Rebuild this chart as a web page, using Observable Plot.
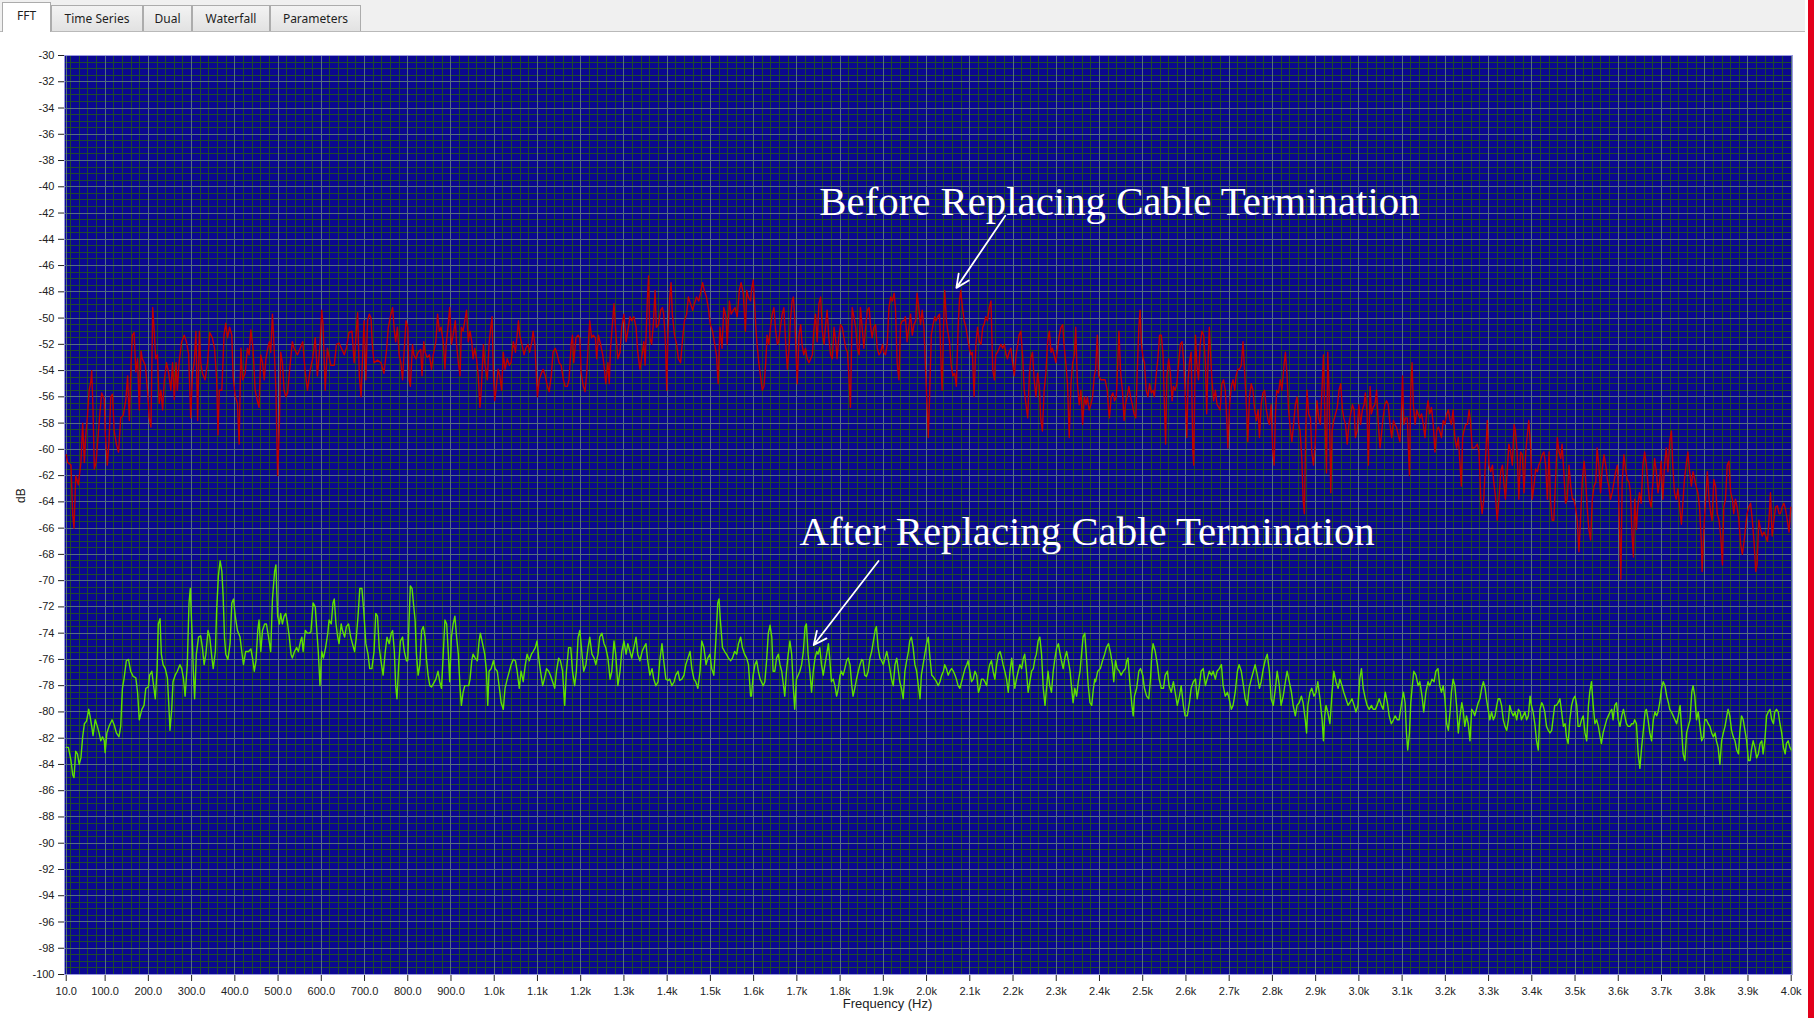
<!DOCTYPE html>
<html>
<head>
<meta charset="utf-8">
<script src="https://cdn.jsdelivr.net/npm/d3@7"></script>
<script src="https://cdn.jsdelivr.net/npm/@observablehq/plot@0.6"></script>
<style>
html,body{margin:0;padding:0;background:#fff;}
body{width:1814px;height:1018px;position:relative;overflow:hidden;font-family:"Liberation Sans",Arial,sans-serif;}
#tabbar{position:absolute;left:0;top:0;width:1805px;height:31px;background:#f0f0f0;border-bottom:1px solid #b9b9b9;}
.tab{position:absolute;top:5px;height:26px;border:1px solid #acacac;border-bottom:none;background:linear-gradient(#f3f3f3,#e2e2e2);font:12px "Noto Sans","Open Sans",sans-serif;color:#1e1e1e;text-align:center;line-height:25px;box-sizing:border-box;}
.tab.active{top:2px;height:30px;background:#fff;z-index:2;line-height:26px;}
#chart{position:absolute;left:0;top:32px;}
#redbar{position:absolute;left:1808px;top:0;width:6px;height:1018px;background:#e2001a;}
#leftborder{position:absolute;left:1px;top:32px;width:1px;height:986px;background:#b5b5b5;}
</style>
</head>
<body>
<div id="tabbar">
  <div class="tab active" style="left:2px;width:49px;">FFT</div>
  <div class="tab" style="left:51px;width:92px;">Time Series</div>
  <div class="tab" style="left:143px;width:49px;">Dual</div>
  <div class="tab" style="left:192px;width:78px;">Waterfall</div>
  <div class="tab" style="left:270px;width:91px;">Parameters</div>
</div>
<div id="leftborder"></div>
<div id="chart"></div>
<div id="redbar"></div>
<script>
// ---------- tick values / labels ----------
const xTicks = [10,100,200,300,400,500,600,700,800,900,1000,1100,1200,1300,1400,1500,1600,1700,1800,1900,2000,2100,2200,2300,2400,2500,2600,2700,2800,2900,3000,3100,3200,3300,3400,3500,3600,3700,3800,3900,4000];
const xTickLabels = ["10.0","100.0","200.0","300.0","400.0","500.0","600.0","700.0","800.0","900.0","1.0k","1.1k","1.2k","1.3k","1.4k","1.5k","1.6k","1.7k","1.8k","1.9k","2.0k","2.1k","2.2k","2.3k","2.4k","2.5k","2.6k","2.7k","2.8k","2.9k","3.0k","3.1k","3.2k","3.3k","3.4k","3.5k","3.6k","3.7k","3.8k","3.9k","4.0k"];
const yTicks = [-30,-32,-34,-36,-38,-40,-42,-44,-46,-48,-50,-52,-54,-56,-58,-60,-62,-64,-66,-68,-70,-72,-74,-76,-78,-80,-82,-84,-86,-88,-90,-92,-94,-96,-98,-100];
const yTickLabels = ["-30","-32","-34","-36","-38","-40","-42","-44","-46","-48","-50","-52","-54","-56","-58","-60","-62","-64","-66","-68","-70","-72","-74","-76","-78","-80","-82","-84","-86","-88","-90","-92","-94","-96","-98","-100"];

// ---------- annotations ----------
const noteLabels = ["Before Replacing Cable Termination", "After Replacing Cable Termination"];
const noteFreq = [1752, 1706];
const noteDb = [-42.15, -67.3];
const arrowFromFreq = [2182, 1889];
const arrowFromDb = [-42.2, -68.5];
const arrowToFreq = [2069, 1739];
const arrowToDb = [-47.7, -74.9];

// ---------- series: [frequency Hz, dB] ----------
const before = [
[10,-60.4],[13,-61],[21,-61.2],[25,-65],[28,-66],[32,-62],[38,-62.7],[44,-61],[48,-58],[52,-61],[55,-59],[59,-57.5],[63,-55.5],[67,-54.8],[69,-54],[72,-57],[75,-61.5],[79,-61],[82,-59.7],[88,-57.2],[92,-55.7],[98,-56.2],[100,-58.6],[105,-61.2],[109,-59.4],[113,-56],[117,-55.8],[121,-58.6],[126,-59.6],[131,-60.2],[136,-57.6],[142,-57.4],[148,-56.2],[152,-54.4],[156,-57.8],[160,-53.4],[163,-51.3],[167,-51.1],[171,-54.1],[175,-53.1],[179,-57],[183,-52.5],[186,-53.1],[193,-53.6],[198,-55.5],[202,-57.6],[206,-58.3],[210,-49.2],[213,-50.7],[217,-53.1],[221,-52.8],[225,-56.5],[229,-55.5],[233,-57],[237,-54.7],[242,-53.4],[247,-54.2],[252,-55.5],[256,-53.4],[260,-56.2],[264,-53.4],[267,-55.5],[271,-53.4],[277,-51.8],[283,-51.3],[288,-51.8],[293,-52.7],[298,-57.6],[302,-54.2],[306,-53.4],[310,-51],[314,-57.8],[318,-51],[321,-53.4],[325,-54.2],[331,-54.7],[337,-53.4],[342,-51.1],[348,-51.5],[353,-52.3],[358,-54.7],[361,-58.9],[364,-55.5],[370,-55.5],[375,-51.3],[379,-50.4],[383,-51.5],[388,-50.7],[393,-51.3],[396,-54.4],[401,-56],[406,-56.5],[410,-59.6],[414,-52.3],[418,-54.7],[424,-54.2],[429,-52.3],[433,-52.8],[437,-50.9],[442,-52.3],[447,-55.5],[452,-56.3],[456,-56.8],[460,-52.8],[464,-53.4],[468,-54.7],[472,-53.1],[476,-52.3],[480,-51.8],[483,-52.6],[487,-49.7],[491,-52.3],[495,-55.5],[499,-62],[503,-58.1],[506,-52.6],[510,-53.4],[514,-55.5],[518,-56],[522,-55.7],[526,-54.2],[533,-51.8],[537,-52.3],[545,-52.8],[550,-52.4],[557,-51.8],[563,-54.2],[568,-55.5],[574,-54],[580,-53.1],[586,-51.5],[591,-54.4],[597,-52],[601,-49.4],[604,-50.5],[609,-55.5],[614,-52.3],[622,-53.6],[630,-53.6],[635,-52],[641,-51.9],[648,-52.4],[653,-52.8],[658,-52.3],[664,-51.1],[671,-51],[676,-53.4],[681,-51],[684,-49.6],[688,-54.4],[692,-56],[695,-53.4],[699,-50.2],[703,-54.7],[707,-50.2],[711,-49.7],[715,-50],[718,-52],[722,-53.4],[730,-53.2],[738,-53.4],[745,-54.2],[751,-52.4],[755,-50.7],[761,-49.7],[765,-49.2],[769,-51],[772,-51.8],[776,-50.7],[780,-52.8],[784,-53.4],[788,-54.7],[792,-52.3],[796,-50.2],
[800,-50.7],[803,-54.7],[806,-55.2],[811,-52],[814,-52.8],[819,-53.1],[824,-52.6],[830,-52.4],[833,-54.4],[837,-51.8],[840,-52.6],[845,-53],[850,-52.8],[855,-53.9],[859,-52.8],[865,-51.8],[869,-49.7],[873,-51],[877,-50.7],[882,-51.8],[886,-53.9],[889,-52],[893,-50.7],[897,-49.2],[901,-52],[905,-51.3],[910,-50.2],[913,-52],[917,-53.4],[921,-54.4],[924,-50.7],[928,-51],[932,-50.2],[936,-49.4],[940,-51.8],[944,-51],[948,-51.8],[951,-53.1],[955,-52.3],[959,-53.1],[963,-54.4],[967,-56.8],[970,-55.5],[975,-52],[978,-53.4],[984,-54.7],[988,-52],[992,-50.7],[995,-49.9],[998,-54.2],[1001,-56.3],[1004,-55.5],[1009,-53.9],[1013,-54.4],[1017,-55.5],[1021,-52.6],[1025,-53.9],[1030,-53.1],[1035,-53.6],[1039,-53.4],[1044,-51.8],[1049,-52.6],[1053,-51.3],[1056,-50.2],[1059,-51.3],[1064,-52],[1069,-52.8],[1073,-52.3],[1078,-52],[1082,-52.6],[1087,-51.8],[1090,-51],[1094,-52],[1098,-54.7],[1100,-56],[1104,-54.7],[1109,-54.2],[1113,-53.9],[1118,-54.4],[1123,-55.2],[1127,-55.6],[1132,-54.4],[1136,-52.6],[1141,-52.3],[1146,-52.8],[1150,-53.4],[1155,-53.6],[1160,-54.7],[1164,-55.2],[1169,-55.2],[1173,-54.7],[1178,-52],[1181,-51.3],[1184,-53.4],[1189,-51.5],[1194,-51.3],[1198,-51.5],[1201,-54.2],[1206,-55.2],[1210,-55.6],[1214,-54.2],[1217,-52.3],[1221,-50.2],[1225,-51.5],[1229,-51.3],[1234,-51.5],[1237,-53.1],[1241,-51.3],[1246,-52],[1251,-52.8],[1255,-53.9],[1258,-55],[1263,-53.4],[1266,-55],[1269,-52.3],[1274,-50.2],[1277,-48.9],[1281,-51],[1286,-53.1],[1291,-52.6],[1295,-50.7],[1300,-49.7],[1305,-51.8],[1309,-51],[1314,-49.9],[1318,-50.2],[1323,-49.9],[1328,-50.7],[1332,-52.6],[1337,-53.9],[1342,-52.8],[1346,-51.8],[1349,-53.6],[1354,-48.7],[1357,-46.8],[1360,-51.5],[1364,-52],[1368,-50.5],[1372,-47.9],[1375,-50.7],[1380,-50.5],[1385,-49.4],[1389,-49.2],[1392,-49.7],[1396,-51.8],[1399,-55.5],[1402,-51],[1406,-48.4],[1409,-47.3],[1412,-49.7],[1417,-51.3],[1422,-52],[1426,-53.1],[1431,-53.4],[1436,-51.5],[1440,-50.2],[1445,-49.7],[1449,-48.4],[1454,-48.9],[1459,-49.4],[1463,-48.9],[1468,-48.4],[1473,-48.7],[1477,-48.1],[1482,-47.3],[1486,-47.9],[1491,-48.4],[1496,-49.4],[1500,-50.5],[1505,-51],[1510,-52],[1514,-52.8],[1518,-55],[1522,-50.7],[1527,-52.3],[1531,-49.2],[1536,-49.9],[1539,-52],[1544,-48.7],[1548,-49.7],[1553,-49.4],[1557,-49.2],[1562,-49.9],[1567,-47.9],[1571,-47.3],[1576,-48.1],[1581,-51],[1584,-47.9],[1588,-48.4],[1593,-48.7],
[1595,-47.9],[1599,-47.1],[1602,-48.7],[1605,-50.7],[1608,-52],[1612,-53.4],[1616,-54.4],[1620,-55.5],[1624,-55.2],[1628,-53.4],[1631,-51.3],[1635,-52],[1639,-50.7],[1643,-49.7],[1647,-49.2],[1651,-51],[1655,-52],[1658,-51.8],[1662,-50.7],[1666,-49.7],[1670,-49.2],[1674,-51.8],[1678,-53.9],[1682,-52.3],[1685,-50.2],[1689,-48.7],[1692,-48.4],[1695,-49.9],[1699,-53.4],[1701,-55],[1705,-51.3],[1709,-50.5],[1712,-52],[1716,-52.8],[1720,-52.3],[1724,-53.1],[1728,-53.4],[1732,-53.1],[1736,-52.8],[1739,-51],[1743,-49.7],[1747,-51.8],[1751,-48.9],[1755,-48.4],[1759,-51],[1763,-52],[1766,-50.7],[1770,-49.4],[1774,-51.5],[1778,-52.8],[1782,-53.1],[1786,-50.7],[1790,-51.8],[1793,-53.1],[1797,-51.5],[1801,-50.5],[1805,-50.7],[1809,-51.5],[1813,-52.3],[1817,-52.6],[1820,-54.2],[1824,-56.8],[1828,-49.2],[1832,-49.9],[1836,-50.7],[1840,-52.3],[1844,-52.8],[1847,-49.2],[1851,-50.7],[1855,-52.3],[1859,-50.7],[1863,-49.4],[1867,-49.2],[1871,-50.7],[1874,-51.5],[1878,-50.7],[1882,-50.5],[1886,-52.3],[1890,-52.8],[1894,-52.6],[1898,-52],[1901,-52.6],[1905,-52.8],[1909,-52],[1913,-49.2],[1917,-48.4],[1921,-48.7],[1925,-48.1],[1928,-49.2],[1932,-53.4],[1936,-54.7],[1940,-50.5],[1944,-50.2],[1948,-50.2],[1951,-49.9],[1955,-51.8],[1959,-50.7],[1963,-49.7],[1967,-51.3],[1971,-50.5],[1975,-50.2],[1978,-48.1],[1982,-49.2],[1986,-50.5],[1990,-49.4],[1994,-50.7],[1998,-54.2],[2002,-57.3],[2004,-59.1],[2007,-56],[2011,-51.3],[2015,-50.5],[2019,-49.9],[2022,-50.2],[2026,-49.9],[2030,-49.7],[2034,-53.9],[2036,-55.5],[2039,-51],[2042,-47.9],[2046,-50.2],[2049,-51],[2053,-51.8],[2057,-53.6],[2061,-54.4],[2065,-54.2],[2069,-55.2],[2073,-50.7],[2076,-48.7],[2079,-47.9],[2083,-49.2],[2087,-50.2],[2091,-50.7],[2095,-51.5],[2099,-52.3],[2103,-52.8],[2106,-52.6],[2110,-56],[2114,-52],[2118,-50.7],[2122,-51.8],[2126,-52],[2130,-50.7],[2133,-50.5],[2137,-49.9],[2141,-50.2],[2145,-49.2],[2149,-48.7],[2153,-53.9],[2157,-54.7],[2160,-52.8],[2164,-52.6],[2168,-52.3],[2172,-52],[2176,-52.3],[2180,-52],[2184,-52.8],[2187,-53.1],[2191,-52.6],[2195,-52.3],[2199,-53.4],[2203,-54.4],[2207,-52.8],[2211,-52],[2214,-51.3],[2218,-51],[2222,-52.8],[2226,-55.5],[2230,-56.6],[2234,-57.6],[2238,-54.2],[2241,-53.1],[2245,-52.6],[2249,-54.7],[2253,-56],[2257,-54.2],[2261,-55.2],[2264,-57.6],[2268,-58.6],[2272,-55.5],[2276,-54.2],[2280,-51.8],[2284,-51],[2288,-52.6],[2291,-52.3],[2295,-52.8],[2299,-53.4],[2303,-52.3],[2307,-51.3],[2311,-50.7],[2315,-50.5],[2318,-52],[2322,-53.4],[2326,-55],[2330,-59.1],[2334,-55],[2338,-53.4],[2342,-52.8],[2345,-50.7],[2349,-55],[2353,-56.6],[2357,-55.5],[2361,-58.1],[2365,-56],[2369,-56.6],[2372,-56],[2376,-57],[2380,-56.6],[2384,-56],[2388,-54.4],
[2391,-53.9],[2395,-51.3],[2398,-54.4],[2403,-54.7],[2408,-54.7],[2413,-54.7],[2418,-55.5],[2421,-57],[2423,-57.6],[2427,-56],[2431,-55.7],[2435,-56.3],[2439,-56],[2443,-52.8],[2445,-51],[2449,-54.2],[2453,-55.5],[2457,-57.8],[2460,-56.6],[2464,-56],[2468,-55.2],[2472,-56],[2476,-56.6],[2480,-57.3],[2484,-57.6],[2487,-54.4],[2491,-50.7],[2494,-49.4],[2497,-52],[2501,-53.1],[2504,-53.4],[2508,-55.5],[2512,-56],[2516,-55],[2520,-55.7],[2524,-55.5],[2527,-56],[2531,-54.4],[2535,-53.1],[2539,-51.3],[2543,-51.3],[2547,-52.8],[2551,-57.6],[2553,-59.6],[2556,-54.4],[2560,-53.1],[2564,-54.2],[2568,-56.3],[2571,-55.2],[2575,-55.5],[2579,-55],[2583,-53.4],[2587,-52],[2591,-51.8],[2595,-53.4],[2598,-55.5],[2602,-59.1],[2605,-54.7],[2608,-53.4],[2612,-52.6],[2616,-60.2],[2618,-61.2],[2622,-51.3],[2625,-53.4],[2629,-54.7],[2633,-52],[2637,-51],[2641,-51.3],[2645,-53.4],[2648,-57.3],[2651,-53.4],[2654,-50.7],[2657,-52.8],[2660,-54.7],[2664,-56.3],[2668,-55.5],[2672,-56.6],[2676,-56.8],[2679,-57],[2683,-55],[2687,-54.7],[2691,-55.5],[2695,-58.1],[2697,-59.9],[2701,-56.6],[2705,-55.2],[2709,-54.7],[2713,-55.5],[2716,-54.4],[2720,-53.9],[2724,-53.9],[2728,-53.6],[2732,-51.8],[2736,-54.2],[2740,-56.8],[2743,-59.4],[2747,-56],[2751,-55],[2755,-55.5],[2759,-57],[2763,-57.8],[2767,-57],[2770,-59.1],[2774,-56.6],[2778,-55.7],[2782,-55.5],[2786,-57],[2790,-57.8],[2793,-58.1],[2797,-56.6],[2801,-60.2],[2804,-61.2],[2807,-57.3],[2810,-55.5],[2814,-55.7],[2818,-54.7],[2822,-55.5],[2826,-53.9],[2830,-52.6],[2834,-54.4],[2837,-56.8],[2841,-58.3],[2845,-59.4],[2849,-58.1],[2853,-56.6],[2857,-56],[2861,-58.1],[2864,-58.6],[2868,-60.7],[2871,-63.8],[2874,-64.9],[2877,-58.6],[2880,-55.5],[2884,-57.3],[2888,-57.6],[2891,-60.2],[2895,-61.2],[2899,-59.6],[2903,-56.3],[2907,-57.6],[2911,-58.1],[2915,-55.2],[2918,-52.8],[2921,-57],[2925,-61.8],[2928,-52.6],[2931,-55.5],[2934,-61.2],[2935,-63.3],[2938,-58.6],[2942,-57.8],[2946,-57.3],[2950,-56.8],[2954,-55.5],[2958,-55],[2962,-57],[2965,-57.6],[2969,-58.1],[2973,-59.6],[2977,-58.1],[2981,-57.3],[2985,-56.6],[2989,-57],[2992,-59.1],[2996,-58.6],[3000,-56.6],[3004,-58.1],[3008,-57],[3012,-56.6],[3015,-55.7],[3019,-57.3],[3022,-61.2],[3026,-55.2],[3029,-57.3],[3033,-56.8],[3037,-56.6],[3041,-55.5],[3045,-58.1],[3049,-59.9],[3053,-58.6],[3056,-57.6],[3060,-56.6],[3064,-56.3],[3068,-56.6],[3072,-58.1],[3076,-59.1],[3080,-57.8],[3083,-58.1],[3087,-58.3],[3091,-58.9],[3095,-59.4],[3099,-56.6],[3101,-54.4],[3104,-58.1],[3108,-57.6],[3112,-57.6],[3116,-61.2],[3117,-62],[3120,-55.5],[3123,-53.4],[3126,-56.6],[3130,-58.1],[3134,-57],[3137,-57.3],[3141,-57.6],[3145,-57.3],[3149,-58.1],[3153,-59.1],[3157,-57],[3160,-56.3],[3164,-57.3],[3168,-56.8],[3172,-58.1],[3176,-60.2],[3180,-58.6],[3184,-58.3],[3187,-58.6],
[3191,-59.1],[3195,-57.8],[3199,-58.1],[3203,-57.3],[3207,-57],[3211,-57.8],[3214,-58.1],[3218,-57],[3222,-59.1],[3226,-59.9],[3230,-59.1],[3234,-61.2],[3237,-62.8],[3240,-59.1],[3243,-58.6],[3247,-58.1],[3251,-58.1],[3255,-57],[3258,-57.8],[3262,-59.9],[3266,-59.9],[3270,-59.8],[3274,-59.6],[3278,-60.2],[3282,-63.8],[3285,-64.9],[3289,-63.8],[3293,-60.7],[3297,-57.8],[3301,-61.2],[3305,-61.7],[3309,-61.2],[3312,-62.5],[3316,-63.6],[3320,-65.4],[3324,-63.8],[3328,-61.7],[3332,-61.2],[3336,-62.8],[3339,-63.8],[3343,-61.7],[3347,-59.6],[3351,-60.2],[3355,-61.2],[3359,-58.1],[3362,-58.6],[3366,-60.2],[3370,-63.8],[3374,-60.2],[3378,-60.4],[3382,-63.3],[3386,-60.2],[3389,-59.1],[3393,-57.8],[3397,-59.6],[3401,-63.8],[3405,-62.8],[3409,-61.5],[3413,-61.7],[3416,-61.2],[3420,-60.9],[3424,-60.4],[3428,-60.2],[3432,-61.2],[3436,-63.8],[3440,-60.2],[3443,-63.8],[3447,-65.4],[3451,-65.4],[3455,-62.3],[3459,-59.1],[3463,-60.2],[3467,-60.7],[3470,-59.6],[3474,-61.7],[3478,-64.1],[3482,-63.8],[3486,-61.2],[3490,-62.8],[3494,-63.8],[3497,-63.8],[3501,-64.4],[3505,-65.4],[3509,-67.8],[3513,-65.1],[3517,-62.3],[3521,-60.9],[3524,-62],[3528,-64.4],[3532,-66.1],[3536,-66.9],[3540,-63.8],[3544,-62.8],[3548,-62.5],[3551,-59.9],[3555,-61.2],[3559,-63.3],[3563,-61.5],[3567,-60.4],[3571,-61.2],[3575,-62.3],[3578,-62.8],[3582,-63.8],[3586,-63.3],[3590,-62.5],[3594,-61.7],[3598,-61.2],[3601,-63.8],[3604,-67.5],[3606,-69.9],[3609,-62.5],[3613,-60.4],[3617,-61.5],[3621,-62.3],[3625,-62.5],[3628,-63.3],[3632,-66.6],[3635,-68.2],[3638,-63.8],[3642,-66.1],[3645,-64.4],[3649,-63.3],[3653,-64.1],[3657,-61.2],[3661,-60.2],[3665,-61.2],[3669,-62.8],[3672,-63.8],[3676,-64.4],[3680,-62.5],[3684,-60.7],[3688,-61.7],[3692,-63.3],[3696,-62.3],[3699,-60.9],[3703,-63.8],[3707,-61.2],[3711,-59.9],[3715,-61.7],[3719,-59.4],[3723,-58.6],[3726,-61.2],[3730,-63.3],[3734,-63.8],[3738,-63],[3742,-64.4],[3746,-65.7],[3750,-63.8],[3753,-62.3],[3757,-61.2],[3761,-60.2],[3765,-61.7],[3769,-62.8],[3773,-61.7],[3777,-62.3],[3780,-62.8],[3784,-63.3],[3788,-64.4],[3792,-67],[3794,-69.3],[3798,-66.1],[3802,-63.8],[3806,-61.7],[3810,-63.8],[3814,-64.9],[3817,-65.4],[3821,-62.3],[3825,-62.8],[3829,-64.9],[3833,-65.4],[3837,-66.6],[3841,-68.8],[3844,-64.4],[3848,-63.8],[3852,-61.2],[3856,-60.9],[3860,-63.3],[3864,-63.8],[3867,-64.9],[3871,-63.8],[3875,-64.4],[3879,-65.4],[3883,-67.2],[3887,-68],[3891,-67],[3894,-66.1],[3898,-64.9],[3902,-64.4],[3906,-64.1],[3910,-65.4],[3914,-67],[3918,-69.3],[3921,-68.8],[3925,-65.4],[3929,-66.1],[3933,-66.6],[3937,-66.3],[3941,-66.6],[3945,-67],[3948,-65.7],[3952,-63.3],[3956,-66.6],[3960,-65.4],[3964,-64.4],[3968,-64.3],[3972,-64.9],[3975,-64.9],[3979,-64.4],[3983,-64.1],[3987,-64.6],[3991,-65.4],[3995,-66.3],[3999,-64.4]
];

const after = [
[10,-82.7],[15,-82.7],[21,-83.7],[25,-84.8],[28,-85],[32,-83],[36,-83.2],[40,-84],[44,-83.5],[48,-81.9],[52,-80.9],[57,-80.7],[62,-79.8],[65,-80.3],[69,-81.1],[72,-81.8],[77,-80.6],[82,-81.1],[86,-81.6],[90,-82.2],[94,-81.9],[98,-82.2],[100,-83.1],[104,-81.6],[109,-81.1],[116,-80.6],[121,-81],[126,-81.6],[132,-81.9],[136,-81.1],[140,-78.2],[144,-77.4],[149,-76.1],[154,-76],[159,-76.9],[165,-77.3],[171,-77.4],[175,-78.5],[179,-80.6],[185,-79.8],[190,-79.5],[194,-78.2],[200,-78.1],[203,-77.2],[208,-76.9],[211,-77.7],[216,-79],[220,-76.9],[223,-73.3],[227,-72.9],[230,-75.6],[234,-76.4],[239,-76.7],[244,-77.4],[247,-79.3],[250,-81.4],[254,-79.8],[257,-77.7],[262,-77.2],[267,-76.9],[273,-76.4],[277,-76.7],[281,-77.4],[285,-78.8],[290,-76.4],[294,-71.7],[297,-70.6],[301,-74],[304,-76.9],[307,-79],[311,-75.6],[316,-74.3],[321,-74.2],[325,-75.1],[329,-76.4],[333,-75.6],[338,-73.8],[342,-74.3],[347,-75.9],[350,-76.7],[355,-75.4],[358,-72.2],[362,-69.6],[366,-68.5],[370,-69.3],[373,-71.2],[376,-74.3],[379,-75.6],[384,-76],[389,-74.8],[393,-71.7],[397,-71.4],[401,-72.7],[406,-73.8],[412,-74.3],[416,-75.4],[420,-76.4],[425,-75.4],[432,-75.4],[437,-75.2],[441,-75.9],[445,-76.9],[449,-76.1],[453,-73.8],[456,-73],[460,-75.4],[464,-73.8],[469,-73.3],[473,-73.3],[478,-74.3],[483,-75.4],[487,-71.4],[492,-69.3],[495,-68.8],[499,-72.7],[503,-73.3],[506,-72.5],[510,-73.3],[514,-72.7],[518,-72.5],[522,-73.3],[526,-74.3],[530,-75.6],[533,-75.9],[538,-75.4],[543,-75.1],[547,-75.4],[552,-74.6],[555,-74.3],[558,-75.4],[563,-73.8],[568,-74],[572,-74],[576,-73.9],[581,-71.7],[586,-72],[590,-74],[593,-75.4],[597,-78],[601,-75.4],[605,-75.9],[610,-75.1],[615,-74],[618,-73],[623,-73.3],[627,-71.7],[630,-71.4],[634,-73.3],[638,-74.3],[641,-74.8],[646,-73.3],[649,-73.8],[654,-74.3],[658,-73.5],[663,-73.3],[668,-74.3],[672,-74.8],[677,-75.4],[681,-74.3],[685,-72.7],[689,-70.6],[694,-70.6],[698,-72.2],[703,-74.8],[708,-75.6],[712,-76.7],[717,-76.7],[722,-75.4],[726,-72.5],[730,-72.7],[734,-75.1],[738,-76.1],[743,-77.2],[748,-75.4],[752,-74.3],[757,-74.8],[762,-74],[765,-73.8],[769,-75.4],[772,-78],[775,-79],[779,-76.4],[783,-74.6],[788,-74.3],[792,-75.4],[797,-76.1],
[800,-76.1],[803,-73],[806,-70.4],[810,-70.6],[813,-71.7],[817,-73],[820,-75.6],[824,-77.2],[828,-76.4],[832,-73.8],[836,-73.5],[840,-74.3],[843,-75.9],[847,-77.2],[851,-78],[855,-78.1],[860,-77.8],[865,-77.5],[870,-76.9],[874,-77.7],[878,-78.2],[882,-75.6],[886,-73],[890,-73.3],[894,-75.6],[897,-77.7],[901,-74.3],[905,-73.3],[909,-72.7],[913,-74.3],[917,-75.6],[921,-78.2],[924,-79.5],[928,-78.5],[932,-78],[936,-78],[941,-78],[944,-77.5],[948,-76.1],[951,-75.6],[956,-75.9],[961,-76.1],[965,-74.6],[968,-74],[973,-74.8],[978,-75.6],[982,-76.9],[985,-79.5],[988,-76.9],[993,-76.7],[998,-76.1],[1002,-76.7],[1007,-76.9],[1012,-78.2],[1016,-79.3],[1021,-79.8],[1025,-78.2],[1030,-77.5],[1035,-76.9],[1039,-76.4],[1044,-76],[1049,-76.1],[1053,-76.9],[1058,-78.2],[1062,-76.9],[1067,-77.7],[1072,-76.4],[1076,-75.6],[1081,-76.1],[1086,-75.6],[1090,-75.4],[1095,-75.1],[1099,-74.6],[1103,-75.9],[1107,-76.9],[1112,-78],[1116,-77.5],[1121,-76.7],[1126,-76.9],[1130,-77.2],[1135,-77.7],[1140,-78.2],[1144,-76.9],[1149,-75.9],[1153,-76.1],[1158,-76.9],[1163,-79.5],[1167,-76.9],[1172,-75.1],[1177,-75.1],[1181,-76.9],[1186,-78],[1190,-76.9],[1194,-74.3],[1198,-73.8],[1203,-75.6],[1207,-76.9],[1212,-76.4],[1217,-75.1],[1221,-74.3],[1226,-75.6],[1231,-75.9],[1235,-76.4],[1240,-75.6],[1244,-74.3],[1249,-74],[1254,-74.8],[1258,-75.1],[1263,-75.9],[1268,-77.5],[1272,-76.9],[1277,-74.6],[1281,-75.6],[1286,-78],[1291,-76.9],[1295,-75.4],[1300,-74.6],[1305,-75.6],[1309,-74.8],[1314,-75.4],[1318,-75.9],[1323,-75.1],[1328,-74.3],[1332,-75.6],[1337,-76.1],[1342,-75.4],[1346,-75.1],[1351,-74.8],[1355,-76.1],[1360,-77.2],[1365,-76.7],[1369,-77.5],[1374,-78],[1379,-77.7],[1383,-76.1],[1388,-74.8],[1392,-76.1],[1397,-77.5],[1402,-77.6],[1406,-77.5],[1411,-78],[1416,-77.7],[1420,-77.2],[1425,-76.9],[1429,-77.6],[1434,-77.5],[1439,-77.2],[1443,-76.4],[1448,-75.9],[1453,-75.4],[1457,-76.7],[1462,-77.5],[1466,-77.7],[1471,-78.2],[1476,-76.9],[1480,-74.6],[1485,-75.1],[1490,-76.4],[1494,-75.9],[1499,-75.6],[1503,-76.7],[1508,-77.2],[1513,-74.3],[1517,-71.7],[1520,-71.4],[1523,-73],[1528,-75.1],[1533,-75.4],[1537,-75.6],[1542,-75.9],[1547,-76.1],[1551,-75.9],[1556,-75.4],[1561,-75.6],[1565,-74.8],[1570,-74.3],[1574,-75.1],[1579,-75.6],[1584,-75.9],[1588,-76.4],[1593,-78.8],
[1595,-78.8],[1599,-77.2],[1603,-76.4],[1607,-76.1],[1611,-76.9],[1615,-77.5],[1618,-77.7],[1622,-78],[1626,-77.7],[1630,-76.1],[1634,-74],[1638,-73.4],[1642,-74.3],[1645,-76.9],[1649,-76.9],[1653,-75.9],[1657,-75.6],[1661,-76.4],[1665,-76.9],[1668,-77.7],[1672,-78.8],[1676,-76.9],[1680,-75.6],[1684,-74.6],[1688,-75.6],[1692,-78.2],[1695,-79.8],[1699,-77.5],[1703,-77.2],[1707,-76.9],[1711,-76.4],[1715,-75.4],[1719,-73.5],[1722,-73.3],[1726,-75.6],[1730,-76.9],[1734,-78.5],[1738,-76.9],[1742,-75.9],[1746,-75.4],[1749,-75.6],[1753,-75.1],[1757,-76.4],[1761,-77.2],[1765,-76.4],[1769,-75.6],[1773,-74.8],[1776,-75.9],[1780,-77.7],[1784,-77.5],[1788,-78],[1792,-78.8],[1796,-78.2],[1800,-77.2],[1803,-76.9],[1807,-77.2],[1811,-76.7],[1815,-76.1],[1819,-75.9],[1823,-76.4],[1827,-78],[1830,-78.8],[1834,-78.2],[1838,-77.5],[1842,-76.9],[1846,-76.4],[1850,-76],[1853,-76.1],[1857,-77.2],[1861,-77.3],[1865,-76.9],[1869,-75.9],[1873,-75.4],[1877,-74.6],[1881,-73.8],[1884,-73.5],[1888,-75.1],[1892,-75.9],[1896,-76.1],[1900,-76.4],[1904,-75.9],[1908,-75.4],[1911,-75.9],[1915,-76.7],[1919,-77.5],[1923,-78],[1927,-76.4],[1931,-75.9],[1935,-76.9],[1938,-77.7],[1942,-78.2],[1946,-79],[1950,-76.9],[1954,-76.1],[1958,-75.4],[1961,-74.6],[1965,-74.3],[1969,-75.1],[1973,-76.4],[1977,-76.9],[1981,-78],[1985,-79],[1988,-77.2],[1992,-76.4],[1996,-75.6],[2000,-74.8],[2004,-74.3],[2008,-75.9],[2012,-77.2],[2015,-77.3],[2019,-77.5],[2023,-77.7],[2027,-78],[2031,-77.7],[2035,-77.2],[2039,-76.9],[2042,-76.4],[2046,-76.7],[2050,-77.2],[2054,-76.9],[2058,-76.7],[2062,-76.9],[2066,-77.2],[2069,-77.5],[2073,-78],[2077,-78.2],[2081,-77.7],[2085,-77.2],[2089,-76.7],[2093,-76.4],[2096,-76.1],[2100,-76.9],[2104,-77.7],[2108,-77.5],[2112,-76.9],[2116,-77.2],[2120,-78.5],[2123,-78.2],[2127,-77.5],[2131,-77.5],[2135,-77.7],[2139,-78],[2143,-76.9],[2146,-76.4],[2150,-76.1],[2154,-76.9],[2158,-77.5],[2162,-76.4],[2166,-75.6],[2170,-75.4],[2174,-75.9],[2177,-76.4],[2181,-76.9],[2185,-77.5],[2189,-78.5],[2193,-76.9],[2197,-75.9],[2200,-76.9],[2204,-78.2],[2208,-77.5],[2212,-76.9],[2216,-76.4],[2220,-76.7],[2224,-75.9],[2227,-75.6],[2231,-76.9],[2235,-78.5],[2239,-77.7],[2243,-76.9],[2247,-76.7],[2251,-75.9],[2254,-75.6],[2258,-74.6],[2262,-74.3],[2266,-75.6],[2270,-78.2],[2274,-79.5],[2278,-78],[2281,-76.9],[2285,-78],[2289,-78.5],[2293,-76.9],[2297,-75.9],[2301,-75.1],[2305,-74.8],[2308,-75.4],[2312,-76.1],[2316,-76.7],[2320,-75.9],[2324,-75.4],[2328,-76.1],[2332,-76.9],[2335,-78],[2339,-79.3],[2343,-78.2],[2347,-78.8],[2351,-77.7],[2355,-76.9],[2359,-75.4],[2362,-74.3],[2366,-74],[2370,-75.9],[2374,-78],[2378,-79.3],[2382,-79.5],[2386,-78.2],[2389,-77.5],
[2391,-77.7],[2396,-76.9],[2402,-76.7],[2407,-76.1],[2412,-75.6],[2416,-75.1],[2421,-74.8],[2426,-75.6],[2430,-76.4],[2433,-77.7],[2437,-76.1],[2441,-76.7],[2446,-76.9],[2450,-77.2],[2455,-76.9],[2460,-76.7],[2463,-76.1],[2466,-75.9],[2470,-77.7],[2475,-79.5],[2478,-80.3],[2481,-78.8],[2486,-78.2],[2491,-76.9],[2495,-76.7],[2500,-77.2],[2504,-78.2],[2509,-78.8],[2514,-79],[2518,-77.5],[2521,-75.6],[2524,-74.8],[2529,-75.4],[2534,-76.4],[2538,-77.5],[2543,-78.2],[2548,-78.2],[2552,-77.2],[2557,-76.9],[2561,-78],[2566,-78.5],[2571,-77.7],[2575,-78.5],[2580,-79.5],[2585,-78.8],[2589,-78],[2594,-79.5],[2598,-80.3],[2603,-80.3],[2608,-79.3],[2612,-78.2],[2617,-77.7],[2622,-77.5],[2626,-79],[2631,-78],[2635,-76.9],[2640,-76.7],[2645,-78],[2649,-77.5],[2654,-76.9],[2659,-77.2],[2663,-76.9],[2668,-77.5],[2672,-76.9],[2677,-76.7],[2682,-76.4],[2686,-78],[2691,-78.8],[2696,-78.5],[2700,-79],[2705,-79.8],[2709,-79.5],[2714,-78.5],[2719,-76.9],[2723,-76.4],[2728,-76.9],[2733,-78],[2737,-79],[2742,-79.5],[2746,-78.2],[2751,-77.5],[2756,-76.9],[2760,-76.4],[2765,-77.2],[2770,-78.2],[2774,-77.7],[2779,-76.7],[2783,-76.1],[2788,-75.6],[2793,-76.9],[2797,-79],[2802,-79.5],[2807,-78.2],[2811,-76.9],[2816,-78],[2820,-79.5],[2825,-78.8],[2830,-77.7],[2834,-76.9],[2839,-77.7],[2844,-78.5],[2848,-79.5],[2853,-80.3],[2857,-79.5],[2862,-79.3],[2867,-78.8],[2871,-79.3],[2876,-80.6],[2879,-81.6],[2882,-79.5],[2887,-78.5],[2891,-78.2],[2896,-78.8],[2901,-78.5],[2905,-77.7],[2910,-79],[2915,-80.6],[2918,-82.2],[2921,-80.3],[2924,-79.5],[2928,-80],[2933,-80.9],[2938,-78.5],[2942,-76.9],[2947,-77.7],[2952,-78.2],[2956,-77.5],[2961,-78],[2965,-78.5],[2970,-79],[2975,-79.5],[2979,-79.3],[2984,-79],[2989,-79.5],[2993,-80],[2998,-79.5],[3002,-77.5],[3006,-76.7],[3010,-78.2],[3015,-79],[3019,-79.5],[3024,-79.8],[3029,-79.5],[3033,-79.8],[3038,-79.8],[3042,-79.5],[3047,-79],[3052,-79.5],[3056,-79.8],[3061,-78.5],[3066,-79.3],[3070,-80.3],[3075,-80.9],[3080,-80.6],[3084,-80.3],[3089,-80.6],[3093,-80.6],[3098,-79.5],[3103,-78.5],[3107,-79.3],[3110,-81.6],[3113,-82.9],[3117,-81.6],[3120,-79.3],[3123,-78.2],[3127,-76.9],[3132,-77.2],[3137,-78],[3141,-77.7],[3146,-78.8],[3150,-80],[3155,-78.5],[3160,-77.7],[3164,-78],[3169,-77.5],[3174,-77.7],[3178,-76.9],[3183,-76.7],[3187,-78],
[3191,-78.5],[3195,-78],[3199,-79],[3203,-80.9],[3207,-81.4],[3211,-80],[3214,-78.5],[3218,-77.5],[3222,-78],[3226,-79.5],[3230,-81.6],[3234,-80.3],[3238,-79.3],[3241,-79.8],[3245,-81.1],[3249,-80.3],[3253,-80.9],[3257,-82.2],[3261,-79.8],[3265,-80],[3268,-80.3],[3272,-79.8],[3276,-79.3],[3280,-79],[3284,-78.2],[3288,-77.7],[3292,-78.2],[3295,-79],[3299,-79.8],[3303,-80.6],[3307,-80],[3311,-80.6],[3315,-80.3],[3319,-79.5],[3322,-79],[3326,-79],[3330,-79.5],[3334,-80.6],[3338,-81.1],[3342,-81.4],[3346,-80.6],[3349,-79.5],[3353,-80],[3357,-80.3],[3361,-80],[3365,-80.6],[3369,-79.8],[3373,-80],[3376,-80.6],[3380,-80.3],[3384,-80],[3388,-80.6],[3392,-80.3],[3396,-78.8],[3399,-79.5],[3403,-80],[3407,-80.9],[3411,-82.2],[3415,-82.9],[3419,-79.8],[3423,-79.3],[3426,-79.5],[3430,-80],[3434,-81.1],[3438,-81.4],[3442,-81.6],[3446,-81.4],[3450,-80.3],[3453,-79.5],[3457,-79.5],[3461,-79.3],[3465,-79],[3469,-80],[3473,-81.1],[3477,-80.9],[3480,-81.9],[3484,-82.4],[3488,-80.6],[3492,-79.5],[3496,-79],[3500,-78.8],[3504,-79.5],[3507,-81.1],[3511,-81.1],[3515,-80.6],[3519,-80.3],[3523,-81.6],[3527,-82.2],[3531,-79.5],[3534,-78.5],[3538,-77.7],[3542,-79.5],[3546,-80.9],[3550,-80.6],[3554,-81.1],[3558,-81.9],[3561,-82.4],[3565,-81.6],[3569,-81.1],[3573,-80.6],[3577,-80.3],[3581,-80],[3585,-79.8],[3588,-80.6],[3592,-79.5],[3596,-79.3],[3600,-80.6],[3604,-81.1],[3608,-80.3],[3612,-79.8],[3615,-80.3],[3619,-80.9],[3623,-81.1],[3627,-81.1],[3631,-80.9],[3635,-80.9],[3638,-80.6],[3642,-80.9],[3646,-83.2],[3650,-84.3],[3654,-82.7],[3658,-81.4],[3662,-80],[3665,-79.8],[3669,-80.6],[3673,-81.6],[3677,-82.2],[3681,-80.6],[3685,-80],[3689,-80.3],[3692,-80],[3696,-79.3],[3700,-78.2],[3704,-77.7],[3708,-78],[3712,-78.8],[3716,-79.3],[3719,-79.8],[3723,-80],[3727,-80.3],[3731,-80.6],[3735,-80.9],[3739,-80.3],[3743,-79.5],[3746,-81.1],[3750,-83.2],[3754,-83.7],[3758,-81.6],[3762,-81.1],[3766,-80.6],[3770,-78.5],[3773,-78],[3777,-78.8],[3781,-80.6],[3785,-80],[3789,-81.1],[3793,-82.2],[3797,-81.9],[3800,-80.6],[3804,-80.6],[3808,-80.9],[3812,-81.1],[3816,-81.6],[3820,-81.9],[3824,-81.6],[3827,-82.2],[3831,-82.7],[3835,-84],[3839,-82.2],[3843,-81.6],[3847,-81.1],[3851,-80.3],[3854,-79.8],[3858,-80.3],[3862,-81.4],[3866,-81.9],[3870,-82.2],[3874,-82.9],[3878,-83.2],[3881,-81.6],[3885,-80.3],[3889,-80.6],[3893,-81.4],[3897,-82.2],[3901,-83.7],[3905,-83.7],[3908,-82.9],[3912,-82.2],[3916,-82.7],[3920,-83.5],[3924,-83.2],[3928,-82.4],[3932,-82.2],[3935,-83.2],[3939,-82.2],[3943,-80.3],[3947,-80],[3951,-79.8],[3955,-80.6],[3959,-80.9],[3962,-80],[3966,-79.8],[3970,-80],[3974,-80.9],[3978,-81.6],[3982,-82.7],[3986,-83.2],[3989,-82.4],[3993,-82.2],[3997,-82.7],[4000,-82.9]
];

// ---------- styling ----------
const plotBg = "#0b0890";
const majorGrid = "#56707c";
const minorGrid = "#1f4a2e";
const frameColor = "#9a9ae0";
const redColor = "#c00000";
const greenColor = "#5fe000";

const xLabelMap = new Map(xTicks.map((t, i) => [t, xTickLabels[i]]));
const yLabelMap = new Map(yTicks.map((t, i) => [t, yTickLabels[i]]));
const minorX = d3.range(20, 4000, 20).filter(v => v % 100 !== 0);
const minorY = d3.range(-99.5, -30, 0.5).filter(v => v % 2 !== 0);

const notes = noteLabels.map((t, i) => ({text: t, x: noteFreq[i], y: noteDb[i]}));
const pointers = arrowFromFreq.map((f, i) => ({x1: f, y1: arrowFromDb[i], x2: arrowToFreq[i], y2: arrowToDb[i]}));

const chart = Plot.plot({
  width: 1814,
  height: 986,
  marginLeft: 64,
  marginRight: 22,
  marginTop: 23,
  marginBottom: 44,
  style: {fontFamily: '"Liberation Sans", Arial, sans-serif', fontSize: "11px", color: "#222", background: "white", overflow: "visible"},
  x: {domain: [6, 4003], ticks: xTicks, tickFormat: d => xLabelMap.get(d), tickSize: 7, tickPadding: 6, label: null},
  y: {domain: [-100, -30], ticks: yTicks, tickFormat: d => yLabelMap.get(d), tickSize: 6, tickPadding: 4, label: null},
  marks: [
    Plot.frame({fill: plotBg, stroke: null}),
    Plot.ruleX(minorX, {stroke: minorGrid, strokeWidth: 1, shapeRendering: "crispEdges"}),
    Plot.ruleY(minorY, {stroke: minorGrid, strokeWidth: 1, shapeRendering: "crispEdges"}),
    Plot.ruleX(xTicks, {stroke: majorGrid, strokeWidth: 1, shapeRendering: "crispEdges"}),
    Plot.ruleY(yTicks, {stroke: majorGrid, strokeWidth: 1, shapeRendering: "crispEdges"}),
    Plot.line(before, {x: d => d[0], y: d => d[1], stroke: redColor, strokeWidth: 1.4}),
    Plot.line(after, {x: d => d[0], y: d => d[1], stroke: greenColor, strokeWidth: 1.4}),
    Plot.frame({stroke: frameColor, strokeWidth: 1}),
    Plot.text(notes, {x: "x", y: "y", text: "text", fill: "white", fontSize: 40.8, fontFamily: '"Liberation Serif", "DejaVu Serif", serif', textAnchor: "start", lineAnchor: "bottom"}),
    Plot.arrow(pointers, {x1: "x1", y1: "y1", x2: "x2", y2: "y2", stroke: "white", strokeWidth: 1.8, headLength: 12, headAngle: 50}),
    Plot.text(["dB"], {text: d => d, frameAnchor: "left", dx: -43, dy: -12, rotate: -90, fontSize: 12, fill: "#222"}),
    Plot.text(["Frequency (Hz)"], {text: d => d, frameAnchor: "bottom", dx: -41, dy: 33, fontSize: 13, fill: "#222"})
  ]
});
document.getElementById("chart").appendChild(chart);
</script>
</body>
</html>
